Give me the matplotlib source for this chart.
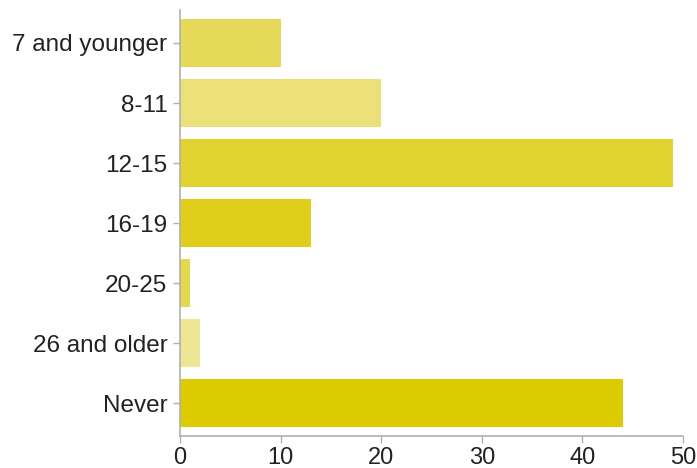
import matplotlib
matplotlib.use("Agg")
import matplotlib.pyplot as plt

categories = ["7 and younger", "8-11", "12-15", "16-19", "20-25", "26 and older", "Never"]
values = [10, 20, 49, 13, 1, 2, 44]
colors = ["#e6d95a", "#ebe07a", "#e2d430", "#dfcf1a", "#e5d84c", "#efe694", "#dccb00"]
xticks = [0, 10, 20, 30, 40, 50]

plt.rcParams['font.family'] = ['Liberation Sans', 'DejaVu Sans']

fig = plt.figure(figsize=(6.97, 4.68), dpi=100)
ax = fig.add_axes([180/697, 32/468, 503/697, 426/468])
ypos = list(range(len(categories)))
ax.barh(ypos, values, height=0.8, color=colors)
ax.set_ylim(6.55, -0.55)
ax.set_xlim(0, 50)
ax.set_yticks(ypos)
ax.set_yticklabels(categories, fontsize=17.5, color="#222222")
ax.set_xticks(xticks)
ax.set_xticklabels([str(t) for t in xticks], fontsize=17, color="#222222")
for s in ["top", "right"]:
    ax.spines[s].set_visible(False)
for s in ["left", "bottom"]:
    ax.spines[s].set_color("#b0b0b0")
    ax.spines[s].set_linewidth(1.2)
ax.tick_params(axis="both", colors="#b0b0b0", labelcolor="#222222", length=5, width=1)
ax.tick_params(axis="y", pad=4)
ax.tick_params(axis="x", pad=3)
fig.savefig("out.png", dpi=100)
